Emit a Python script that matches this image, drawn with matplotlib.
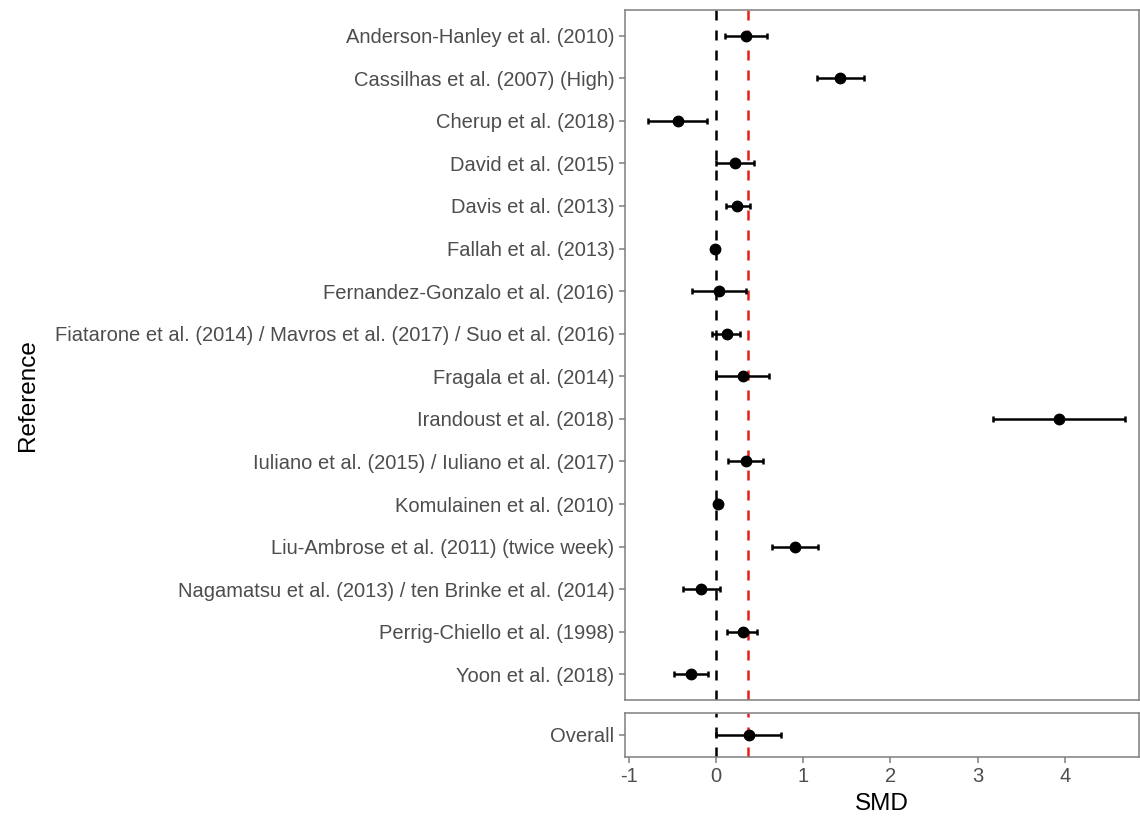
import matplotlib.pyplot as plt

plt.rcParams['font.family'] = ['Liberation Sans', 'DejaVu Sans']
plt.rcParams['axes.unicode_minus'] = False

# study estimates (SMD with 95% CI)
studies = [
    'Anderson-Hanley et al. (2010)',
    'Cassilhas et al. (2007) (High)',
    'Cherup et al. (2018)',
    'David et al. (2015)',
    'Davis et al. (2013)',
    'Fallah et al. (2013)',
    'Fernandez-Gonzalo et al. (2016)',
    'Fiatarone et al. (2014) / Mavros et al. (2017) / Suo et al. (2016)',
    'Fragala et al. (2014)',
    'Irandoust et al. (2018)',
    'Iuliano et al. (2015) / Iuliano et al. (2017)',
    'Komulainen et al. (2010)',
    'Liu-Ambrose et al. (2011) (twice week)',
    'Nagamatsu et al. (2013) / ten Brinke et al. (2014)',
    'Perrig-Chiello et al. (1998)',
    'Yoon et al. (2018)',
]
smd = [0.34, 1.42, -0.44, 0.22, 0.24, -0.01, 0.03, 0.12, 0.31, 3.93, 0.34, 0.02, 0.90, -0.17, 0.31, -0.29]
lower = [0.10, 1.16, -0.78, 0.00, 0.11, -0.04, -0.28, -0.05, 0.00, 3.18, 0.14, 0.00, 0.64, -0.38, 0.13, -0.48]
upper = [0.59, 1.70, -0.10, 0.43, 0.39, 0.02, 0.34, 0.28, 0.61, 4.69, 0.54, 0.04, 1.17, 0.04, 0.47, -0.09]

overall_smd = 0.38
overall_lower = 0.00
overall_upper = 0.75
pooled_line = 0.37

xticks = [-1, 0, 1, 2, 3, 4]
xlim = (-1.044, 4.85)

frame_col = '#7f7f7f'
text_col = '#4d4d4d'

fig = plt.figure(figsize=(11.4, 8.16), dpi=100)
W, H = 1140, 816
ax = fig.add_axes([625 / W, 1 - 700 / H, 514 / W, 690 / H])
ax2 = fig.add_axes([625 / W, 1 - 757 / H, 514 / W, 44 / H])

n = len(studies)
ys = list(range(n, 0, -1))
xerr = [[s - l for s, l in zip(smd, lower)], [u - s for s, u in zip(smd, upper)]]
ax.errorbar(smd, ys, xerr=xerr, fmt='o', color='black', ms=7.5, elinewidth=1.8,
            capsize=2.5, capthick=1.8, zorder=3)
ax.set_yticks(ys)
ax.set_yticklabels(studies)
ax.set_ylim(0.4, n + 0.6)

ax2.errorbar([overall_smd], [1], xerr=[[overall_smd - overall_lower], [overall_upper - overall_smd]],
             fmt='o', color='black', ms=7.5, elinewidth=1.8, capsize=2.5, capthick=1.8, zorder=3)
ax2.set_yticks([1])
ax2.set_yticklabels(['Overall'])
ax2.set_ylim(0.4, 1.6)

for a in (ax, ax2):
    a.axvline(0, color='black', ls=(0, (4, 4)), lw=1.8, zorder=2)
    a.axvline(pooled_line, color='#e8201a', ls=(0, (4, 4)), lw=1.8, zorder=2)
    a.set_xlim(*xlim)
    a.set_xticks(xticks)
    for s in a.spines.values():
        s.set_color(frame_col)
        s.set_linewidth(1.1)
    a.tick_params(colors=frame_col, labelcolor=text_col, labelsize=14.5, length=4, width=1.1)

ax.tick_params(axis='x', bottom=False, labelbottom=False)
ax2.set_xlabel('SMD', fontsize=17.5, color='black', labelpad=5)
fig.text(28 / W, 1 - 395 / H, 'Reference', rotation=90, fontsize=17.5, va='center', ha='center')

fig.savefig('out.png', dpi=100)
